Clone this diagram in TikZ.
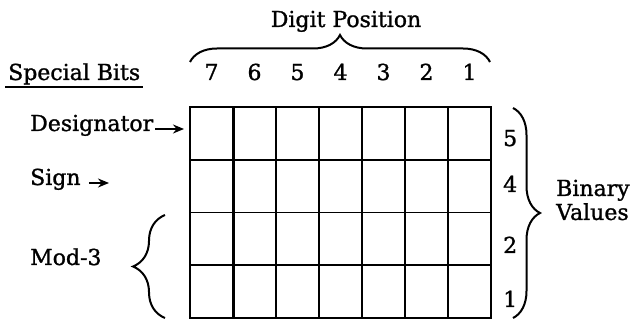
\documentclass[tikz,border=0pt]{standalone}
\usepackage{fontspec}
\setmainfont[FakeBold=1.2]{DejaVu Serif}
\usetikzlibrary{arrows.meta, positioning, decorations.pathreplacing}

\begin{document}
\begin{tikzpicture}[
    x=1pt, y=1pt,
    cell/.style={rectangle, draw, line width=1.8pt, minimum width=43pt, minimum height=52.75pt, inner sep=0pt},
    lbl/.style={font=\fontsize{22}{24}\selectfont, inner sep=0pt},
    arrow/.style={-{Stealth[length=11pt, width=9pt]}, line width=1.8pt},
    curly/.style={decorate, decoration={brace, amplitude=#1}, line width=2pt},
]
\useasboundingbox (0,0) rectangle (634,321);

% Register: digit positions 7..1, binary values 5,4,2,1
\foreach \d [count=\i] in {7,6,5,4,3,2,1} {
  \foreach \b [count=\j] in {5,4,2,1} {
    \node[cell] (c\d-\b) at ({190+43*(\i-0.5)}, {214-52.75*(\j-0.5)}) {};
  }
  \node[lbl, anchor=base] (pos\d) at ({190+43*(\i-0.5)}, 241) {\d};
}
\draw[line width=3pt] (c7-5.north east) -- (c7-1.south east);

% Binary values on the right
\node[lbl, anchor=base west] (bv5) at (503,175) {5};
\node[lbl, anchor=base west] (bv4) at (503,129) {4};
\node[lbl, anchor=base west] (bv2) at (503,68) {2};
\node[lbl, anchor=base west] (bv1) at (503,14) {1};
\draw[curly=27] (513,213) -- (513,3);
\node[lbl, anchor=west, align=left] (binval) at (556,121) {Binary\\Values};

% Digit position heading
\draw[curly=27] (190,259) -- (490,259);
\node[lbl, anchor=base] (digpos) at (346,294) {Digit Position};

% Special bits on the left
\node[lbl, anchor=base west] (spec) at (8,241) {Special Bits};
\draw[line width=1.8pt] ([xshift=-3pt, yshift=-2pt]spec.south west) -- ([xshift=3pt, yshift=-2pt]spec.south east);
\node[lbl, anchor=base west] (desig) at (30,190) {Designator};
\node[lbl, anchor=base west] (sign) at (30,136) {Sign};
\node[lbl, anchor=base west] (mod) at (30,56) {Mod-3};
\coordinate (desigtip) at (184,192);
\coordinate (signtip) at (109,138);
\draw[arrow, shorten <=2pt] (desig.base east |- desigtip) -- (desigtip);
\draw[arrow, shorten <=8pt] (sign.base east |- signtip) -- (signtip);
\draw[curly=32] (165,3) -- (165,106);

\end{tikzpicture}
\end{document}
